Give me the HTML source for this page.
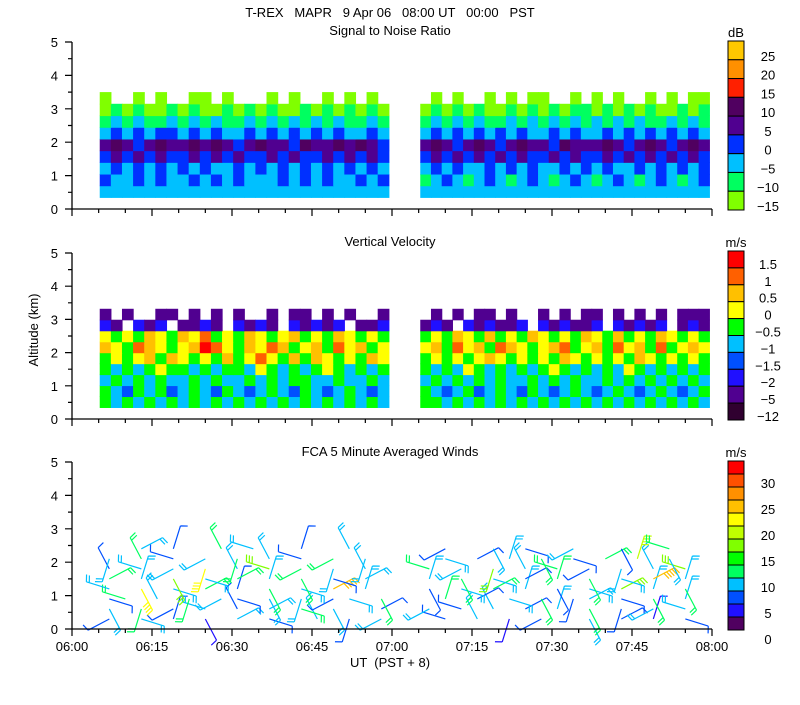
<!DOCTYPE html>
<html><head><meta charset="utf-8"><style>
html,body{margin:0;padding:0;background:#fff;}
svg text{font-family:"Liberation Sans",sans-serif;font-size:13px;fill:#000;white-space:pre;}
</style></head><body>
<svg id="chart" width="800" height="700" xmlns="http://www.w3.org/2000/svg">
<text x="390" y="17" text-anchor="middle">T-REX   MAPR   9 Apr 06   08:00 UT   00:00   PST</text>
<text x="390" y="35" text-anchor="middle">Signal to Noise Ratio</text>
<text x="390" y="246" text-anchor="middle">Vertical Velocity</text>
<text x="390" y="456" text-anchor="middle">FCA 5 Minute Averaged Winds</text>
<text x="736" y="37" text-anchor="middle">dB</text>
<text x="736" y="247" text-anchor="middle">m/s</text>
<text x="736" y="457" text-anchor="middle">m/s</text>
<text transform="translate(38,330) rotate(-90)" text-anchor="middle" font-size="12">Altitude (km)</text>
<text x="390" y="667" text-anchor="middle">UT  (PST + 8)</text>
<g id="layer"></g>
</svg>
<script>
// ---- data ----
const xTickLabels = ["06:00","06:15","06:30","06:45","07:00","07:15","07:30","07:45","08:00"];
const yTickLabels = ["0","1","2","3","4","5"];
const snrLabels = ["25","20","15","10","5","0","\u22125","\u221210","\u221215"];
const vvLabels = ["1.5","1","0.5","0","\u22120.5","\u22121","\u22121.5","\u22122","\u22125","\u221212"];
const windLabels = ["30","25","20","15","10","5","0"];
const segStart = [5.2, 65.3];      // minutes after 06:00
const segEnd = [59.4, 119.5];
// SNR: rows bottom->top, altitude step 0.35 km from 0.35 km; digits = color class
const snrSeg1 = ["22222222222222222222222222","32232322323232223232322323","23232323232232323232323232","34343433434343343433434343","45434544545434544354454543","23232332323223232323232232","12121121212112121212121121","01010010100101010010101010","0..0.0..00.0...0.0..0.0.0."];
const snrSeg2 = ["222222222222222222222222222","123212321232123212321232123","232322323232232323223232323","343434343433434334343434343","454345434544354445434543454","232323232322323223232323232","121212112121212121212112121","010101001010101101010100101",".0.0..0.0.00..0.0.0..0.0.00"];
// Vertical velocity: rows bottom->top, 0.33 km step from 0.35 km
const vvSeg1 = ["45454545454545454545454545","45645465456456545645654565","54545455454554545445545545","45454344545445345454345454","43432423434243134242343423","23412343201342312432413243","34342342314342343243423434","78.787.8878.7878.78787.887","8.8..88.8.8.8..8.88.8.8..8"];
const vvSeg2 = ["445454545454545454545454545","456546545645654565456545654","545454545545454554545454545","454534545454345454534545454","434343234343423434342343434","324132412343214324132414323","434234243423434234243423434","878.787887.787887.78787.878",".8.8.88.8..8.8.88.8.8.8.888"];
// Winds: columns at these minutes; levels in km; speed digit*3 m/s; dir digit*45 deg
const windTimes = [7,10,13,16,19,22,25,28,31,34,37,40,43,46,49,52,55,58, 67,70,73,76,79,82,85,88,91,94,97,100,103,106,109,112,115,118];
const windLevels = [0.3,0.6,0.9,1.2,1.5,1.8,2.1,2.4];
const windSpeed = ["2.3.2.1.3.2..3.2.3 .2.3.1.2..3.2.1.2.","3.4.2.3.2.3.4.3..2 3.2.3.2.3.4.2.3.3.","24.3.4.32.3.3.23.4 .4.2.3.4.23.2.4.3.","3.7.3.4.2.4.3.8.3. 2.3.4.3.2.3.5.3.4.","4.3.5.3.4.3.4.2.3. 3.4.3.2.4.4.3.8.3.","2.3.3.7.3.5.4.3.3. 4.3.5.3.4.2.3.3.5.","3.4.2.3.4.3.2.4.3. .3.2.3.4.2.4.6.3.","..3.2..4.3..2..3.. .2..3.2..3..2..4."];
const windDir = ["512607341526370415 263714052637140526","374152637415263741 526374150637415263","263704152637415263 704152637415263704","613726150437261504 372615043726150437","150437261504372615 043726150437261504","726150437261504372 615043726150437261","437261504372615043 726150437261504372","261504372615043726 150437261504372615"];
// ---- rendering ----
const NS="http://www.w3.org/2000/svg";
const layer=document.getElementById('layer');
const X0=72, PXMIN=640/120;
const xScale=m=>X0+m*PXMIN;
const panels=[{y0:209,k:33.4},{y0:419,k:33.2},{y0:629,k:33.4}];
const yScale=(p,a)=>panels[p].y0-a*panels[p].k;
const snrColors=["#ffc800","#ff9000","#ff2000","#500060","#500090","#0030ff","#00c0ff","#00ff60","#80ff00"];
const snrClass=["#80ff00","#00ff60","#00c0ff","#0030ff","#500090","#500060","#ff2000","#ff9000","#ffc800"];
const vvColors=["#ff0000","#ff6000","#ffc000","#ffff00","#00ff00","#00c0ff","#0050ff","#2010ff","#500090","#300030"];
const windColors=["#ff0000","#ff5000","#ff9000","#ffc000","#ffff00","#c0ff00","#80ff00","#00ff00","#00ff60","#00c0ff","#0050ff","#2010ff","#500060"];
function el(tag,attrs){const e=document.createElementNS(NS,tag);for(const k in attrs)e.setAttribute(k,attrs[k]);layer.appendChild(e);return e;}
function drawGrid(p,rows,seg,base,step,colorFn,name){
  const x1=xScale(segStart[seg]),x2=xScale(segEnd[seg]);
  rows.forEach((row,ri)=>{
    const n=row.length,w=(x2-x1)/n;
    for(let i=0;i<n;i++){const c=row[i];if(c==='.')continue;
      const yt=yScale(p,base+(ri+1)*step),yb=yScale(p,base+ri*step);
      const r=el('rect',{x:x1+i*w,y:yt,width:w+0.6,height:yb-yt+0.6,fill:colorFn(+c)});
      
      
    }
  });
}
drawGrid(0,snrSeg1,0,0.35,0.35,d=>snrClass[d],'snr-cell');
drawGrid(0,snrSeg2,1,0.35,0.35,d=>snrClass[d],'snr-cell');
drawGrid(1,vvSeg1,0,0.35,0.33,d=>vvColors[d],'vv-cell');
drawGrid(1,vvSeg2,1,0.35,0.33,d=>vvColors[d],'vv-cell');
// wind barbs
windLevels.forEach((lv,li)=>{
  const sp=windSpeed[li].replace(/ /g,''),dr=windDir[li].replace(/ /g,'');
  windTimes.forEach((t,ti)=>{
    const c=sp[ti];if(c===undefined||c==='.')return;
    const s=(+c)*3,ang=(+dr[ti])*45*Math.PI/180+0.3;
    const x=xScale(t),y=yScale(2,lv);
    const ci=Math.max(0,Math.min(12,12-Math.floor(s/2.5)));
    const col=windColors[ci];
    const dx=Math.sin(ang),dy=-Math.cos(ang),L=24;
    const ex=x+dx*L,ey=y+dy*L;
    let d=`M${x},${y}L${ex},${ey}`;
    let n=Math.round(s/5);
    for(let b=0;b<n;b++){const bx=ex-dx*b*3,by=ey-dy*b*3;d+=`M${bx},${by}l${-dy*7+dx*2},${dx*7+dy*2}`;}
    const b=el('path',{d:d,stroke:col,'stroke-width':1.2,fill:'none'});
    
    
  });
});
// axes
for(let p=0;p<3;p++){
  const y0=panels[p].y0,y5=yScale(p,5);
  const a=el('path',{d:`M${X0},${y5}L${X0},${y0}L${xScale(120)},${y0}`,stroke:'#000','stroke-width':1.3,fill:'none'});
  
  
  let d='';
  for(let m=0;m<=120;m+=5){const L=(m%15===0)?7:4;d+=`M${xScale(m)},${y0}L${xScale(m)},${y0+L}`;}
  for(let h=0;h<=10;h++){const yy=yScale(p,h/2),L=(h%2===0)?7:4;d+=`M${X0},${yy}L${X0-L},${yy}`;}
  const tk=el('path',{d:d,stroke:'#000','stroke-width':1.2});
  
  
  yTickLabels.forEach((lab,i)=>{
    const t=el('text',{x:X0-14,y:yScale(p,i)+5,'text-anchor':'end'});t.textContent=lab;
    
    
  });
}
xTickLabels.forEach((lab,i)=>{
  const t=el('text',{x:xScale(i*15),y:651,'text-anchor':'middle'});t.textContent=lab;
  
  
});
// colorbars
function colorbar(top,bot,cols,labels,every,name){
  const h=(bot-top)/cols.length;
  cols.forEach((c,i)=>{
    const r=el('rect',{x:728,y:top+i*h,width:16,height:h,fill:c,stroke:'#000','stroke-width':1});
    
    
  });
  labels.forEach((lab,i)=>{
    const yy=top+(i*every+every)*h+1;
    const t=el('text',{x:768,y:yy,'text-anchor':'middle'});t.textContent=lab;
    
    
  });
}
colorbar(41,210,snrColors,snrLabels,1,'snr-colorbar');
colorbar(251,420,vvColors,vvLabels,1,'vv-colorbar');
colorbar(461,630,windColors,windLabels,2,'wind-colorbar');
</script>
</body></html>
